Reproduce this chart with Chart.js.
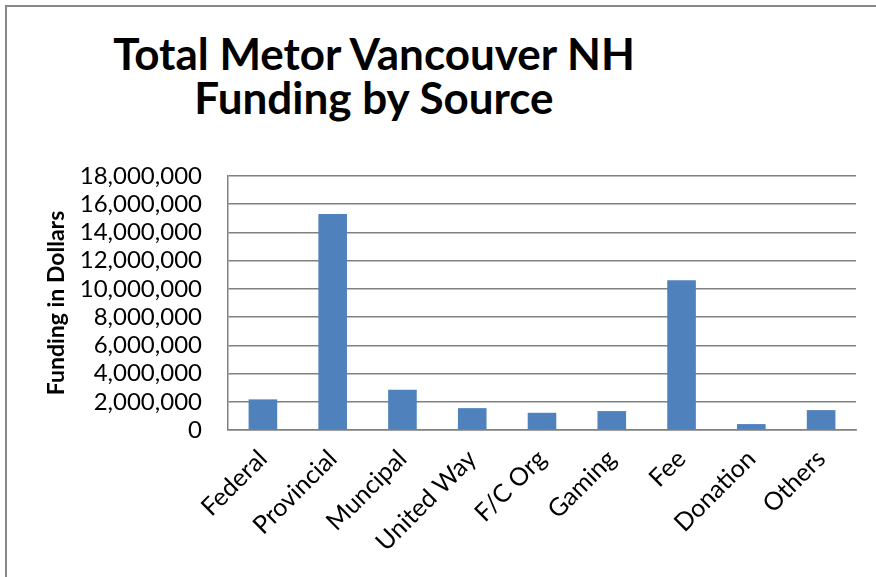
<!DOCTYPE html>
<html>
<head>
<meta charset="utf-8">
<script src="https://cdn.jsdelivr.net/npm/chart.js@4/dist/chart.umd.min.js"></script>
<style>
  html, body { margin: 0; padding: 0; background: #fff; }
  #wrap { position: relative; width: 876px; height: 577px; }
  #frame { position: absolute; left: 5px; top: 5px; right: 0; bottom: 0;
           border-top: 2px solid #888; border-left: 2px solid #888; }
  #title { position: absolute; left: 0; top: 31px; width: 748px; text-align: center;
           font-family: Lato, sans-serif; font-weight: bold; font-size: 44px; line-height: 44px; color: #000; }
  canvas { position: absolute; left: 0; top: 0; }
</style>
</head>
<body>
<div id="wrap">
  <div id="frame"></div>
  <div id="title">Total Metor Vancouver NH<br>Funding by Source</div>
  <canvas id="funding-chart" width="876" height="577"></canvas>
</div>
<script>
Chart.defaults.font.family = 'Lato'
Chart.defaults.color = '#000'

// Funding sources and amounts (dollars)
const sources = ["Federal", "Provincial", "Muncipal", "United Way", "F/C Org", "Gaming", "Fee", "Donation", "Others"];
const funding = [2170000, 15300000, 2850000, 1550000, 1220000, 1340000, 10620000, 420000, 1410000];
const yTicks = [0, 2000000, 4000000, 6000000, 8000000, 10000000, 12000000, 14000000, 16000000, 18000000];

const gridColor = '#808080';

const ctx = document.getElementById("funding-chart").getContext("2d");
const fundingChart = new Chart(ctx, {
    type: 'bar',
    data: {
        labels: sources,
        datasets: [{
            label: 'Funding',
            data: funding,
            backgroundColor: '#4F81BD',
            borderWidth: 0,
            barPercentage: 0.41,
            categoryPercentage: 1
        }]
    },
    options: {
        responsive: false,
        animation: false,
        layout: { padding: { left: 38, right: 20, top: 176, bottom: 0 } },
        plugins: {
            legend: { display: false },
            tooltip: { enabled: false }
        },
        scales: {
            x: {
                grid: { display: false, drawTicks: false },
                border: { display: true, color: gridColor, width: 1.5 },
                ticks: {
                    font: { size: 25 },
                    minRotation: 45,
                    maxRotation: 45,
                    autoSkip: false,
                    padding: 14
                },
                afterFit: (scale) => { scale.height = 147; }
            },
            y: {
                min: 0,
                max: 18000000,
                afterBuildTicks: (scale) => { scale.ticks = yTicks.map(v => ({ value: v })); },
                grid: { color: gridColor, lineWidth: 1.5, drawTicks: false },
                border: { display: true, color: gridColor, width: 1.5 },
                ticks: {
                    font: { size: 24 },
                    padding: 26,
                    autoSkip: false,
                    callback: (v) => v.toLocaleString('en-US')
                },
                title: {
                    display: true,
                    text: 'Funding in Dollars',
                    font: { size: 23, weight: 'bold' },
                    padding: 5
                },
                afterFit: (scale) => { scale.width = 190; }
            }
        }
    }
});
</script>
</body>
</html>
